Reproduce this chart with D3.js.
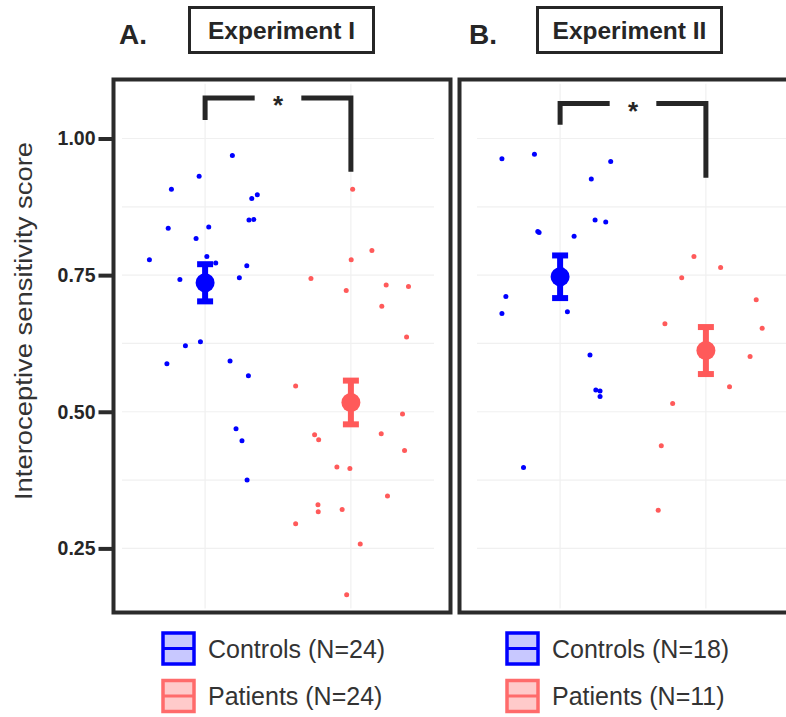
<!DOCTYPE html>
<html>
<head>
<meta charset="utf-8">
<script src="https://cdn.jsdelivr.net/npm/d3@7"></script>
<style>
	body { margin: 0; background: #fff; }
	svg { display: block; font-family: "Liberation Sans", Arial, sans-serif; }
</style>
</head>
<body>
<div id="chart"></div>
<script>
// categories
var groups = ["Controls", "Patients"];
var yTicks = [0.25, 0.50, 0.75, 1.00];

// Experiment I - individual scores, x jitter around group position
var expIControls = [0.969, 0.931, 0.907, 0.890, 0.897, 0.851, 0.852, 0.836, 0.838, 0.817, 0.778, 0.784,
	0.772, 0.767, 0.742, 0.745, 0.621, 0.628, 0.588, 0.593, 0.566, 0.469, 0.447, 0.375];
var expIControlsJitter = [0.187, -0.041, -0.231, 0.320, 0.358, 0.301, 0.334, -0.253, 0.025, -0.062, -0.382, 0.012,
	0.073, 0.286, -0.173, 0.235, -0.135, -0.032, -0.262, 0.171, 0.297, 0.212, 0.253, 0.288];
var expIPatients = [0.907, 0.795, 0.778, 0.744, 0.722, 0.732, 0.729, 0.693, 0.637, 0.547, 0.496, 0.460,
	0.458, 0.449, 0.429, 0.399, 0.396, 0.346, 0.330, 0.317, 0.321, 0.295, 0.258, 0.165];
var expIPatientsJitter = [0.012, 0.144, 0.002, -0.274, -0.032, 0.242, 0.395, 0.212, 0.382, -0.379, 0.354, 0.208,
	-0.249, -0.221, 0.368, -0.096, -0.007, 0.251, -0.226, -0.224, -0.060, -0.379, 0.064, -0.029];
var expIMeans = [0.736, 0.517];
var expISE = [0.034, 0.040];
var expILegend = ["Controls (N=24)", "Patients (N=24)"];

// Experiment II
var expIIControls = [0.963, 0.971, 0.958, 0.926, 0.851, 0.847, 0.830, 0.828, 0.821, 0.711, 0.680, 0.683,
	0.604, 0.540, 0.538, 0.528, 0.398, 0.760];
var expIIControlsJitter = [-0.399, -0.176, 0.347, 0.214, 0.240, 0.313, -0.153, -0.144, 0.096, -0.372, -0.399, 0.050,
	0.205, 0.245, 0.274, 0.274, -0.251, 0.014];
var expIIPatients = [0.784, 0.764, 0.745, 0.705, 0.661, 0.653, 0.601, 0.546, 0.515, 0.438, 0.320];
var expIIPatientsJitter = [-0.082, 0.101, -0.166, 0.345, -0.281, 0.386, 0.303, 0.162, -0.228, -0.306, -0.327];
var expIIMeans = [0.747, 0.612];
var expIISE = [0.039, 0.043];
var expIILegend = ["Controls (N=18)", "Patients (N=11)"];

// significance brackets: [top, left leg end, right leg end]
var expIBracket = [1.074, 1.034, 0.939];
var expIIBracket = [1.064, 1.025, 0.928];

var colors = ["#0000ff", "#ff5a5a"];
var keyFill = ["#c8c8ff", "#ffcaca"];
var keyStroke = ["#0000ff", "#ff6b6b"];
var ink = "#262626";

var panels = [
	{ letter: "A.", title: "Experiment I", controls: expIControls, cj: expIControlsJitter,
		patients: expIPatients, pj: expIPatientsJitter, means: expIMeans, se: expISE,
		legend: expILegend, bracket: expIBracket,
		x0: 122, frame: [113.5, 79.5, 337, 533], letterX: 119, box: [189.5, 7.5, 184, 45], keyX: 163, showAxis: true },
	{ letter: "B.", title: "Experiment II", controls: expIIControls, cj: expIIControlsJitter,
		patients: expIIPatients, pj: expIIPatientsJitter, means: expIIMeans, se: expIISE,
		legend: expIILegend, bracket: expIIBracket,
		x0: 477, frame: [459.5, 79.5, 340, 533], letterX: 469, box: [537.5, 7.5, 184, 45], keyX: 507, showAxis: false }
];

var width = 786, height = 717;
var svg = d3.select("#chart").append("svg")
	.attr("width", width).attr("height", height);

var y = d3.scaleLinear().domain([0.25, 1]).range([548.4, 138.5]);

panels.forEach(function(p) {
	var x = d3.scaleLinear().domain([0.43, 2.57]).range([p.x0, p.x0 + 312]);
	var g = svg.append("g");

	// grid
	g.selectAll(".hgrid").data(d3.range(0.25, 1.01, 0.125)).enter().append("line")
		.attr("x1", x(0.43)).attr("x2", x(2.57))
		.attr("y1", function(d) { return y(d); }).attr("y2", function(d) { return y(d); })
		.attr("stroke", "#f0f0f0").attr("stroke-width", 1.2);
	g.selectAll(".vgrid").data([1, 2]).enter().append("line")
		.attr("x1", function(d) { return x(d); }).attr("x2", function(d) { return x(d); })
		.attr("y1", y(1.1)).attr("y2", y(0.14))
		.attr("stroke", "#f0f0f0").attr("stroke-width", 1.2);

	// jittered points
	[p.controls, p.patients].forEach(function(vals, gi) {
		var jit = gi === 0 ? p.cj : p.pj;
		g.selectAll(".pt" + gi).data(vals).enter().append("circle")
			.attr("cx", function(d, i) { return x(gi + 1 + jit[i]); })
			.attr("cy", function(d) { return y(d); })
			.attr("r", 2.5)
			.attr("fill", colors[gi]);
	});

	// mean +/- se
	p.means.forEach(function(m, gi) {
		var cx = x(gi + 1);
		var lo = y(m - p.se[gi]), hi = y(m + p.se[gi]);
		g.append("line").attr("x1", cx).attr("x2", cx).attr("y1", lo).attr("y2", hi)
			.attr("stroke", colors[gi]).attr("stroke-width", 6);
		[lo, hi].forEach(function(cy) {
			g.append("line").attr("x1", cx - 8).attr("x2", cx + 8).attr("y1", cy).attr("y2", cy)
				.attr("stroke", colors[gi]).attr("stroke-width", 6);
		});
		g.append("circle").attr("cx", cx).attr("cy", y(m)).attr("r", 9.5).attr("fill", colors[gi]);
	});

	// significance bracket
	var b = p.bracket;
	var path = d3.path();
	path.moveTo(x(1), y(b[1])); path.lineTo(x(1), y(b[0])); path.lineTo(x(1.34), y(b[0]));
	path.moveTo(x(1.66), y(b[0])); path.lineTo(x(2), y(b[0])); path.lineTo(x(2), y(b[2]));
	g.append("path").attr("d", path.toString()).attr("fill", "none")
		.attr("stroke", ink).attr("stroke-width", 5);
	g.append("text").attr("x", x(1.5)).attr("y", y(b[0]) + 16)
		.attr("text-anchor", "middle").attr("font-size", 26).attr("font-weight", "bold")
		.attr("fill", ink).text("*");

	// panel frame
	g.append("rect").attr("x", p.frame[0]).attr("y", p.frame[1])
		.attr("width", p.frame[2]).attr("height", p.frame[3])
		.attr("fill", "none").attr("stroke", "#2b2b2b").attr("stroke-width", 4);

	// header
	svg.append("text").attr("x", p.letterX).attr("y", 44)
		.attr("font-size", 28).attr("font-weight", "bold").attr("fill", ink).text(p.letter);
	svg.append("rect").attr("x", p.box[0]).attr("y", p.box[1])
		.attr("width", p.box[2]).attr("height", p.box[3])
		.attr("fill", "none").attr("stroke", ink).attr("stroke-width", 3);
	svg.append("text").attr("x", p.box[0] + p.box[2] / 2).attr("y", 39)
		.attr("text-anchor", "middle").attr("font-size", 24.5).attr("font-weight", "bold")
		.attr("fill", ink).text(p.title);

	// legend
	var lg = svg.append("g");
	groups.forEach(function(name, gi) {
		var ky = 633 + gi * 47.5;
		lg.append("rect").attr("x", p.keyX).attr("y", ky).attr("width", 31).attr("height", 31)
			.attr("fill", keyFill[gi]).attr("stroke", keyStroke[gi]).attr("stroke-width", 3.5);
		lg.append("line").attr("x1", p.keyX).attr("x2", p.keyX + 31)
			.attr("y1", ky + 15.5).attr("y2", ky + 15.5)
			.attr("stroke", keyStroke[gi]).attr("stroke-width", 3);
		lg.append("text").attr("x", p.keyX + 45).attr("y", ky + 24.5)
			.attr("font-size", 25).attr("fill", "#333").text(p.legend[gi]);
	});

	// y axis (left panel only)
	if (p.showAxis) {
		var axis = svg.append("g").attr("transform", "translate(" + p.frame[0] + ",0)")
			.call(d3.axisLeft(y).tickValues(yTicks).tickFormat(d3.format(".2f")).tickSize(15).tickPadding(3));
		axis.select(".domain").remove();
		axis.selectAll(".tick line").attr("stroke", "#2b2b2b").attr("stroke-width", 4);
		axis.selectAll(".tick text").attr("font-size", 19.5).attr("font-weight", "bold")
			.attr("fill", ink).attr("font-family", "Liberation Sans, Arial, sans-serif");
	}
});

// axis title
svg.append("text")
	.attr("transform", "translate(32,321) rotate(-90)")
	.attr("text-anchor", "middle")
	.attr("font-size", 23).attr("fill", "#333")
	.attr("textLength", 358).attr("lengthAdjust", "spacingAndGlyphs")
	.text("Interoceptive sensitivity score");
</script>
</body>
</html>
